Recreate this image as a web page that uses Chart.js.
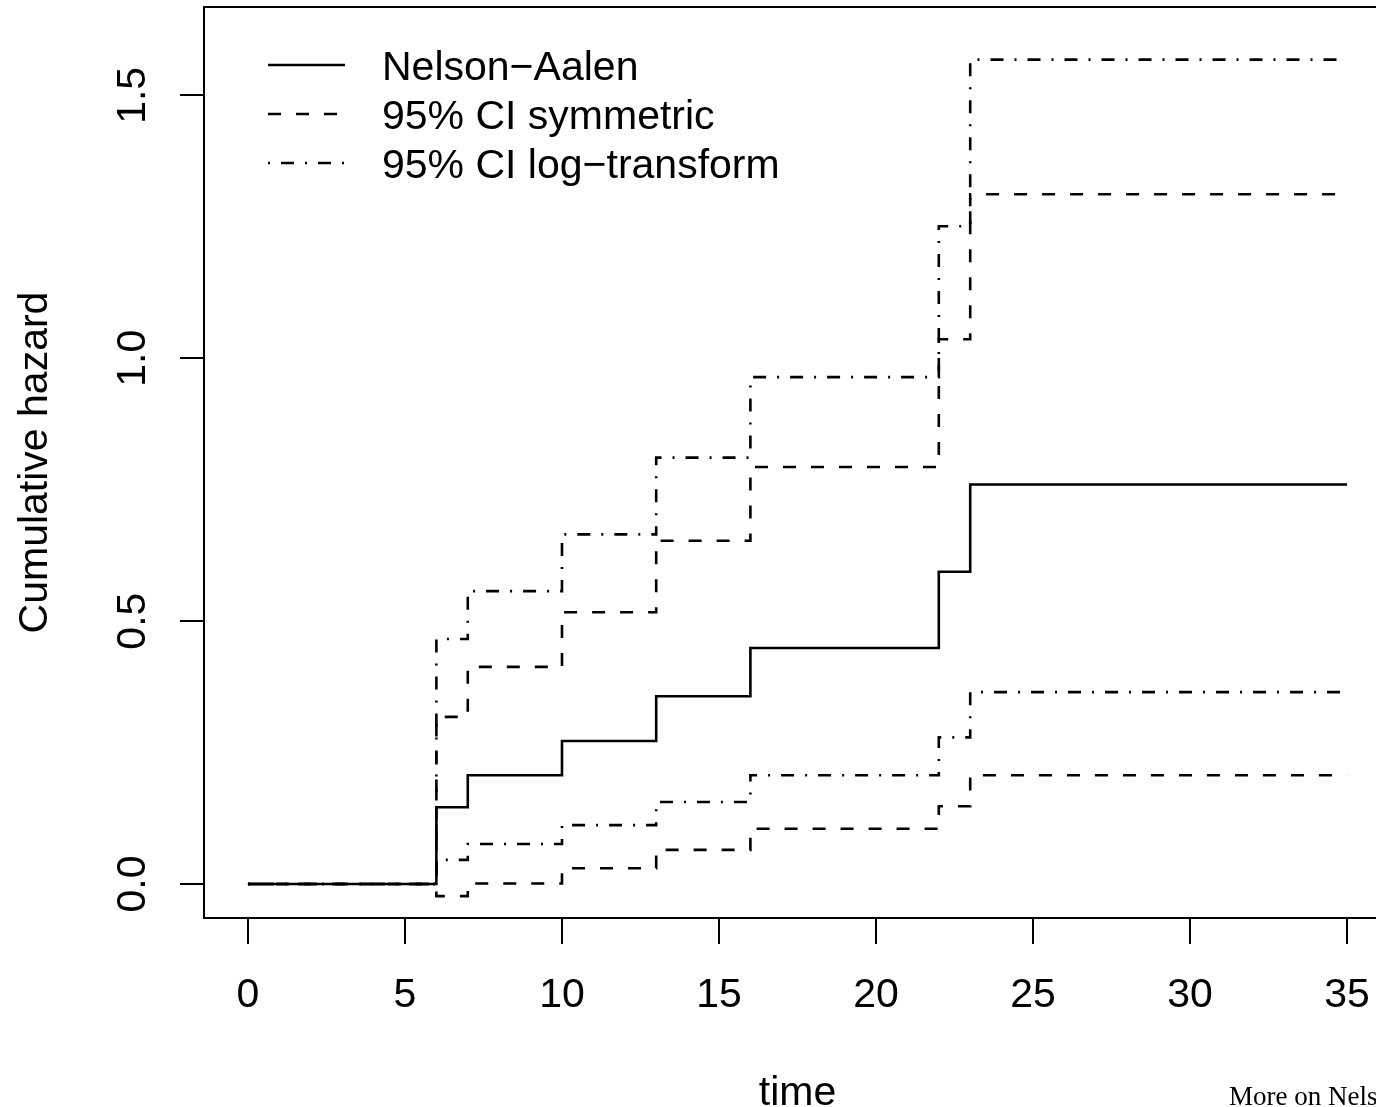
<!DOCTYPE html>
<html>
<head>
<meta charset="utf-8">
<script src="https://cdn.jsdelivr.net/npm/chart.js@4"></script>
<style>
  html, body { margin: 0; padding: 0; background: #fff; overflow: hidden; }
  #wrap { position: absolute; left: 0; top: 0; width: 1420px; height: 1107px; }
</style>
</head>
<body>
<div id="wrap"><canvas id="myChart" width="1420" height="1107"></canvas></div>
<script>
// tiempos de evento (step function)
var times = [0, 6, 7, 10, 13, 16, 22, 23, 35];
var nelsonAalen = [0, 0.146, 0.207, 0.272, 0.357, 0.449, 0.594, 0.760, 0.760];
var symUpper = [0, 0.318, 0.413, 0.517, 0.653, 0.793, 1.036, 1.312, 1.312];
var symLower = [0, -0.023, 0.001, 0.030, 0.065, 0.105, 0.148, 0.207, 0.207];
var logUpper = [0, 0.466, 0.557, 0.665, 0.811, 0.964, 1.251, 1.568, 1.568];
var logLower = [0, 0.046, 0.076, 0.112, 0.156, 0.207, 0.279, 0.365, 0.365];

var xTicks = [0, 5, 10, 15, 20, 25, 30, 35];
var yTicks = [0, 0.5, 1.0, 1.5];
var yTickLabels = ['0.0', '0.5', '1.0', '1.5'];
var legendLabels = ['Nelson\u2212Aalen', '95% CI symmetric', '95% CI log\u2212transform'];

var FONT = '"Liberation Sans", Arial, Helvetica, sans-serif';
var DASHED = [13, 15];
var DOTDASH = [2, 11, 13, 11];

function pts(ys) {
  return times.map(function(t, i) { return { x: t, y: ys[i] }; });
}

function lineDs(label, ys, dash) {
  return {
    label: label,
    data: pts(ys),
    borderColor: '#000',
    borderWidth: 2.6,
    borderDash: dash,
    borderCapStyle: 'butt',
    stepped: 'before',
    pointRadius: 0,
    fill: false,
    tension: 0
  };
}

var data = {
  datasets: [
    lineDs('Nelson-Aalen', nelsonAalen, []),
    lineDs('sym upper', symUpper, DASHED),
    lineDs('sym lower', symLower, DASHED),
    lineDs('log upper', logUpper, DOTDASH),
    lineDs('log lower', logLower, DOTDASH)
  ]
};

// caja, etiquetas del eje y, titulos y leyenda (estilo R base)
var rDecor = {
  id: 'rDecor',
  afterDraw: function(chart) {
    var ctx = chart.ctx;
    var a = chart.chartArea;
    var ys = chart.scales.y;
    ctx.save();
    ctx.strokeStyle = '#000';
    ctx.lineWidth = 2;
    ctx.strokeRect(a.left, a.top, a.right - a.left, a.bottom - a.top);

    ctx.fillStyle = '#000';
    ctx.font = '41px ' + FONT;
    ctx.textAlign = 'center';
    ctx.textBaseline = 'alphabetic';
    yTicks.forEach(function(v, i) {
      var py = ys.getPixelForValue(v);
      ctx.save();
      ctx.translate(145, py);
      ctx.rotate(-Math.PI / 2);
      ctx.fillText(yTickLabels[i], 0, 0);
      ctx.restore();
    });

    // titulos
    ctx.fillText('time', (a.left + a.right) / 2, 1105);
    ctx.save();
    ctx.translate(47, (a.top + a.bottom) / 2);
    ctx.rotate(-Math.PI / 2);
    ctx.fillText('Cumulative hazard', 0, 0);
    ctx.restore();

    // leyenda
    var styles = [[], DASHED, DOTDASH];
    var rows = [65, 114, 163];
    ctx.textAlign = 'left';
    rows.forEach(function(ry, i) {
      ctx.beginPath();
      ctx.setLineDash(styles[i]);
      ctx.lineWidth = 2.6;
      ctx.lineCap = 'butt';
      ctx.moveTo(268, ry);
      ctx.lineTo(345, ry);
      ctx.stroke();
      ctx.setLineDash([]);
      ctx.fillText(legendLabels[i], 382, ry + 15);
    });

    ctx.font = '27px "Liberation Serif", "Times New Roman", serif';
    ctx.fillText('More on Nelson\u2013Aalen estimator', 1229, 1105);
    ctx.restore();
  }
};

var options = {
  responsive: false,
  animation: false,
  layout: { padding: { left: 0, top: 7, right: 29, bottom: 0 } },
  plugins: { legend: { display: false }, tooltip: { enabled: false } },
  scales: {
    x: {
      type: 'linear',
      min: -1.4,
      max: 36.4,
      afterBuildTicks: function(scale) {
        scale.ticks = xTicks.map(function(v) { return { value: v }; });
      },
      afterFit: function(scale) { scale.height = 189; },
      grid: { display: true, drawOnChartArea: false, drawTicks: true, tickLength: 26, color: '#000', lineWidth: 2 },
      border: { display: true, color: '#000', width: 2 },
      ticks: {
        color: '#000',
        font: { family: FONT, size: 41 },
        padding: 27,
        maxRotation: 0,
        autoSkip: false,
        callback: function(v) { return String(v); }
      }
    },
    y: {
      type: 'linear',
      min: -0.0646,
      max: 1.668,
      afterBuildTicks: function(scale) {
        scale.ticks = yTicks.map(function(v) { return { value: v }; });
      },
      afterFit: function(scale) { scale.width = 204; },
      grid: { display: true, drawOnChartArea: false, drawTicks: true, tickLength: 24, color: '#000', lineWidth: 2 },
      border: { display: true, color: '#000', width: 2 },
      ticks: { display: false }
    }
  }
};

var ctx = document.getElementById('myChart').getContext('2d');
var myChart = new Chart(ctx, {
  type: 'line',
  data: data,
  options: options,
  plugins: [rDecor]
});
</script>
</body>
</html>
